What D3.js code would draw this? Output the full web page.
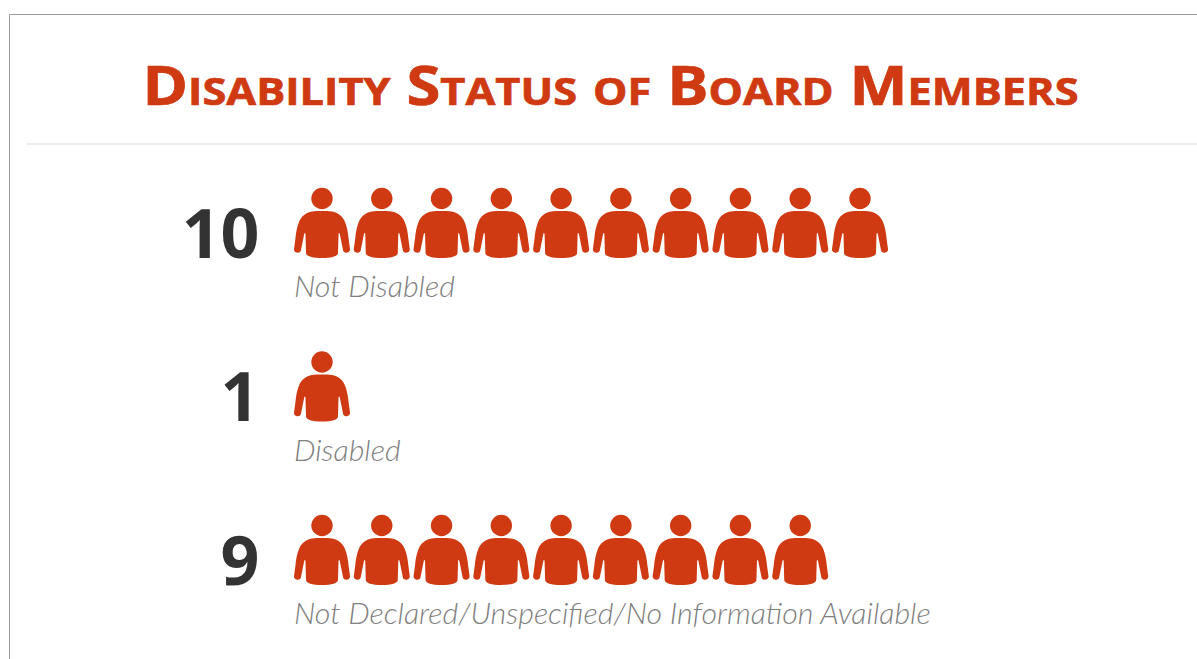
<!DOCTYPE html>
<html><head><meta charset="utf-8">
<script src="https://cdn.jsdelivr.net/npm/d3@7/dist/d3.min.js"></script>
<style>html,body{margin:0;padding:0;background:#fff;overflow:hidden}svg{display:block}</style>
</head><body><svg id="c" width="1197" height="659"></svg>
<script>
const titleText = "Disability Status of Board Members";
const categories = ["Not Disabled", "Disabled", "Not Declared/Unspecified/No Information Available"];
const counts = [10, 1, 9];

const svg = d3.select("#c");
const red = "#cf3a13";
const x = d3.scaleLinear().domain([0, 9]).range([322, 860]);
const y = d3.scalePoint().domain(categories).range([188, 515]);

svg.append("path").attr("d", "M1197,14.5H9.5V659").attr("fill", "none").attr("stroke", "#9a9a9a");
svg.append("text").attr("x", 610.500).attr("y", 105).attr("text-anchor", "middle")
  .attr("font-family", "'Open Sans',sans-serif").attr("font-weight", 700)
  .attr("font-size", 54).style("font-variant", "small-caps").attr("fill", red)
  .attr("stroke", red).attr("stroke-width", 0.7)
  .attr("textLength", 936).attr("lengthAdjust", "spacingAndGlyphs").text(titleText);
svg.append("rect").attr("x", 26).attr("y", 143).attr("width", 1171).attr("height", 2).attr("fill", "#eeeeee");

const body = "M0,23C-4,23 -7,23 -10,23.500C-16,24.500 -20.500,28 -23,34C-25,39 -26,44 -26.500,50L-28,61C-28.500,65 -21.500,66.500 -21,62L-18,47C-17.500,44 -16.500,44.500 -16.500,47L-16,65C-16,68 -10,70 0,70C10,70 16,68 16,65L16.500,47C16.500,44.500 17.500,44 18,47L21,62C21.500,66.500 28.500,65 28,61L26.500,50C26,44 25,39 23,34C20.500,28 16,24.500 10,23.500C7,23 4,23 0,23Z";

const rows = svg.selectAll("g.row").data(categories.map((c, i) => ({c, n: counts[i]})))
  .join("g").attr("class", "row").attr("transform", d => `translate(0,${y(d.c)})`);
rows.append("text").attr("x", 259.500).attr("y", 69.500).attr("text-anchor", "end")
  .attr("font-family", "'Open Sans',sans-serif").attr("font-weight", 700)
  .attr("font-size", 68).attr("fill", "#333333").text(d => d.n);
rows.append("text").attr("x", 294).attr("y", 109)
  .attr("font-family", "Lato,sans-serif").attr("font-weight", 300).attr("font-style", "italic")
  .attr("font-size", 30.400).attr("fill", "#808080").text(d => d.c);
const people = rows.selectAll("g.p").data(d => d3.range(d.n)).join("g").attr("class", "p")
  .attr("transform", i => `translate(${x(i)},0)`).attr("fill", red);
people.append("circle").attr("cx", 0).attr("cy", 10.500).attr("r", 10.700);
people.append("path").attr("d", body);
</script></body></html>
